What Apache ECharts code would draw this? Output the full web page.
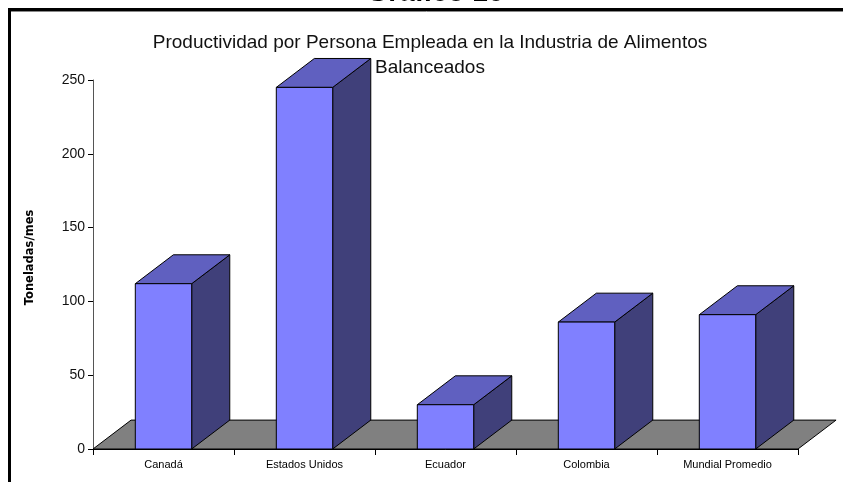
<!DOCTYPE html>
<html>
<head>
<meta charset="utf-8">
<script src="https://cdn.jsdelivr.net/npm/echarts@6/dist/echarts.min.js"></script>
<style>
html,body{margin:0;padding:0;background:#fff;}
#chart{width:843px;height:482px;}
</style>
</head>
<body>
<div id="chart"></div>
<script>
const categories = ['Canadá', 'Estados Unidos', 'Ecuador', 'Colombia', 'Mundial Promedio'];
const values = [112, 245, 30, 86, 91];
const yTicks = { min: 0, max: 250, interval: 50 };
const chartTitle = 'Productividad por Persona Empleada en la Industria de Alimentos\nBalanceados';
const pageTitle = 'Gráfico 16';
const yName = 'Toneladas/mes';

const FRONT = '#8080FF', TOP = '#6060C0', SIDE = '#40407A', FLOOR = '#808080';
const W_RATIO = 0.4, DX_RATIO = 0.27, DY_RATIO = -0.205;

const chart = echarts.init(document.getElementById('chart'), null, { renderer: 'canvas' });

function floorItem(params, api) {
  const cs = params.coordSys;
  const band = cs.width / categories.length;
  const dx = band * DX_RATIO, dy = band * DY_RATIO;
  const yb = cs.y + cs.height;
  return {
    type: 'polygon',
    shape: { points: [[cs.x, yb], [cs.x + dx, yb + dy], [cs.x + cs.width + dx, yb + dy], [cs.x + cs.width, yb]] },
    style: { fill: FLOOR, stroke: '#000', lineWidth: 1 }
  };
}

function barItem(params, api) {
  const top = api.coord([api.value(0), api.value(1)]);
  const base = api.coord([api.value(0), 0]);
  const band = api.size([1, 0])[0];
  const w = band * W_RATIO, dx = band * DX_RATIO, dy = band * DY_RATIO;
  const x0 = top[0] - w / 2, x1 = top[0] + w / 2;
  const yt = top[1], yb = base[1];
  const st = { stroke: '#000', lineWidth: 1, lineJoin: 'round' };
  return {
    type: 'group',
    children: [
      { type: 'polygon', shape: { points: [[x1, yt], [x1 + dx, yt + dy], [x1 + dx, yb + dy], [x1, yb]] }, style: Object.assign({ fill: SIDE }, st) },
      { type: 'polygon', shape: { points: [[x0, yt], [x1, yt], [x1 + dx, yt + dy], [x0 + dx, yt + dy]] }, style: Object.assign({ fill: TOP }, st) },
      { type: 'rect', shape: { x: x0, y: yt, width: w, height: yb - yt }, style: Object.assign({ fill: FRONT }, st) }
    ]
  };
}

const option = {
  animation: false,
  backgroundColor: '#fff',
  grid: { left: 93, right: 45, top: 80, bottom: 33, containLabel: false },
  xAxis: {
    type: 'category',
    data: categories,
    boundaryGap: true,
    axisLine: { show: true, lineStyle: { color: '#000', width: 1 } },
    axisTick: { show: true, length: 6, alignWithLabel: false, lineStyle: { color: '#000' } },
    axisLabel: { color: '#000', fontFamily: 'Liberation Sans', fontSize: 11, margin: 10, interval: 0 },
    splitLine: { show: false }
  },
  yAxis: {
    type: 'value',
    min: yTicks.min, max: yTicks.max, interval: yTicks.interval,
    name: yName,
    nameLocation: 'middle',
    nameGap: 57,
    nameTextStyle: { color: '#000', fontFamily: 'DejaVu Sans', fontWeight: 'bold', fontSize: 11.5, padding: [0, 0, 0, 14] },
    axisLine: { show: true, lineStyle: { color: '#555', width: 1 } },
    axisTick: { show: true, length: 5, lineStyle: { color: '#000' } },
    axisLabel: { color: '#111', fontFamily: 'Liberation Sans', fontSize: 14, margin: 8 },
    splitLine: { show: false }
  },
  graphic: [
    { type: 'line', shape: { x1: 8, y1: 9.5, x2: 843, y2: 9.5 }, style: { stroke: '#000', lineWidth: 3 }, z: 10 },
    { type: 'line', shape: { x1: 10, y1: 11.5, x2: 843, y2: 11.5 }, style: { stroke: '#888', lineWidth: 1 }, z: 10 },
    { type: 'line', shape: { x1: 9.5, y1: 8, x2: 9.5, y2: 482 }, style: { stroke: '#000', lineWidth: 3 }, z: 10 },
    { type: 'text', x: 435, y: -21, style: { text: pageTitle, fill: '#000', font: 'bold 28px "Liberation Sans"', textAlign: 'center', textVerticalAlign: 'top' }, z: 10 },
    { type: 'text', x: 430, y: 30, style: { text: chartTitle, fill: '#111', font: '19px "Liberation Sans"', textAlign: 'center', textVerticalAlign: 'top', lineHeight: 25 }, z: 10 }
  ],
  series: [
    { type: 'custom', name: 'floor', renderItem: floorItem, data: [0], z: 1, silent: true },
    { type: 'custom', name: yName, renderItem: barItem, data: values.map((v, i) => [i, v]), encode: { x: 0, y: 1 }, z: 2 }
  ]
};
chart.setOption(option);
</script>
</body>
</html>
